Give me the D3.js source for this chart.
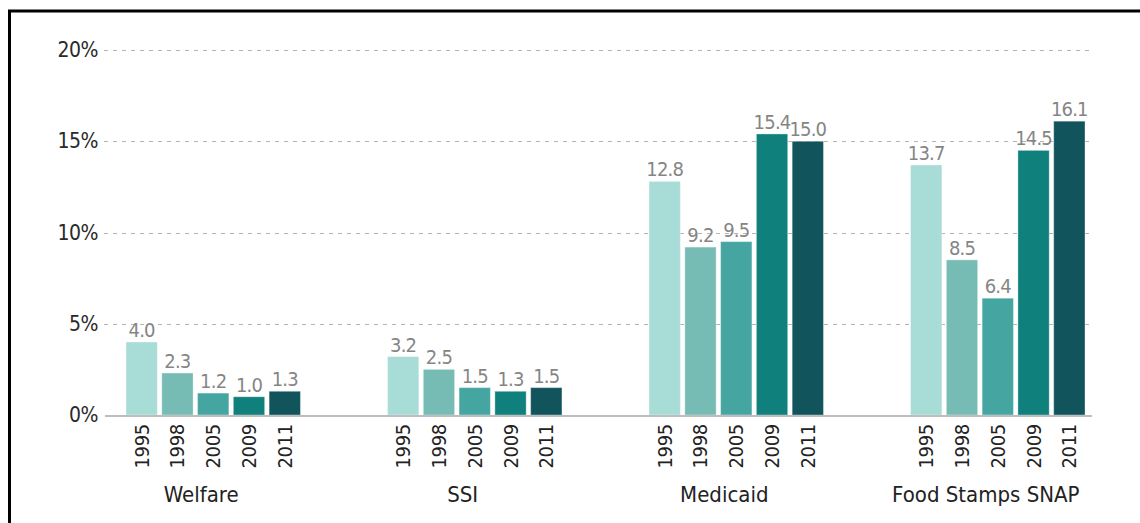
<!DOCTYPE html>
<html>
<head>
<meta charset="utf-8">
<script src="https://cdn.jsdelivr.net/npm/d3@7"></script>
<style>
  body { margin: 0; background: #fff; }
  text { font-family: "DejaVu Sans Condensed", "DejaVu Sans", sans-serif; font-stretch: condensed; }
</style>
</head>
<body>
<script>
// programs and survey years
const programs = ["Welfare", "SSI", "Medicaid", "Food Stamps SNAP"];
const years = ["1995", "1998", "2005", "2009", "2011"];

// percentages, one array per year, in program order
const v1995 = [4.0, 3.2, 12.8, 13.7];
const v1998 = [2.3, 2.5, 9.2, 8.5];
const v2005 = [1.2, 1.5, 9.5, 6.4];
const v2009 = [1.0, 1.3, 15.4, 14.5];
const v2011 = [1.3, 1.5, 15.0, 16.1];

const yTicks = [0, 5, 10, 15, 20];
const colors = ["#a8dcd6", "#76bcb5", "#45a6a1", "#0f807c", "#12545c"];

const byYear = [v1995, v1998, v2005, v2009, v2011];
const rows = [];
programs.forEach((p, i) => {
  years.forEach((yr, j) => rows.push({ program: p, year: yr, value: byYear[j][i] }));
});

const W = 1140, H = 523;
const svg = d3.select("body").append("svg")
  .attr("width", W)
  .attr("height", H);

// frame (top and left only)
svg.append("path")
  .attr("d", "M9.5,523 L9.5,11 L1140,11")
  .attr("fill", "none")
  .attr("stroke", "#000")
  .attr("stroke-width", 3);

const y = d3.scaleLinear().domain([0, 20]).range([415, 50]);

const x0 = d3.scaleBand()
  .domain(programs)
  .range([126, 1085])
  .paddingInner(0.333)
  .paddingOuter(0);

const x1 = d3.scaleBand()
  .domain(years)
  .range([0, x0.bandwidth()])
  .paddingInner(0.125)
  .paddingOuter(0);

const color = d3.scaleOrdinal().domain(years).range(colors);

// dashed gridlines
svg.append("g").selectAll("line")
  .data(yTicks.filter(t => t > 0))
  .enter().append("line")
    .attr("x1", 104)
    .attr("x2", 1093)
    .attr("y1", d => Math.round(y(d)) + 0.5)
    .attr("y2", d => Math.round(y(d)) + 0.5)
    .attr("stroke", "#b4b4b4")
    .attr("stroke-width", 1.2)
    .attr("stroke-dasharray", "4,5");

// y tick labels
svg.append("g").selectAll("text")
  .data(yTicks)
  .enter().append("text")
    .attr("x", 98)
    .attr("y", d => y(d) + 7)
    .attr("text-anchor", "end")
    .attr("font-size", "21px")
    .attr("letter-spacing", "-0.5px")
    .attr("fill", "#2a2a2a")
    .text(d => d + "%");

// bars
svg.append("g").selectAll("rect")
  .data(rows)
  .enter().append("rect")
    .attr("x", d => x0(d.program) + x1(d.year))
    .attr("y", d => y(d.value))
    .attr("width", x1.bandwidth())
    .attr("height", d => y(0) - y(d.value))
    .attr("fill", d => color(d.year))
    .attr("stroke", "rgba(255,255,255,0.35)")
    .attr("stroke-width", 1);

// value labels
svg.append("g").selectAll("text")
  .data(rows)
  .enter().append("text")
    .attr("x", d => x0(d.program) + x1(d.year) + x1.bandwidth() / 2)
    .attr("y", d => y(d.value) - 5)
    .attr("text-anchor", "middle")
    .attr("font-size", "20px")
    .attr("letter-spacing", "-0.8px")
    .attr("fill", "#858585")
    .text(d => d.value.toFixed(1));

// baseline
svg.append("line")
  .attr("x1", 105)
  .attr("x2", 1092)
  .attr("y1", y(0) + 1)
  .attr("y2", y(0) + 1)
  .attr("stroke", "#bdbdbd")
  .attr("stroke-width", 2);

// rotated year labels
svg.append("g").selectAll("text")
  .data(rows)
  .enter().append("text")
    .attr("transform", d => "translate(" + (x0(d.program) + x1(d.year) + x1.bandwidth() / 2 + 7) + "," + 424 + ") rotate(-90)")
    .attr("text-anchor", "end")
    .attr("font-size", "20px")
    .attr("letter-spacing", "-0.3px")
    .attr("fill", "#222")
    .text(d => d.year);

// program labels
svg.append("g").selectAll("text")
  .data(programs)
  .enter().append("text")
    .attr("x", d => x0(d) + x0.bandwidth() / 2 - 12)
    .attr("y", 502)
    .attr("text-anchor", "middle")
    .attr("font-size", "22px")
    .attr("fill", "#222")
    .text(d => d);
</script>
</body>
</html>
